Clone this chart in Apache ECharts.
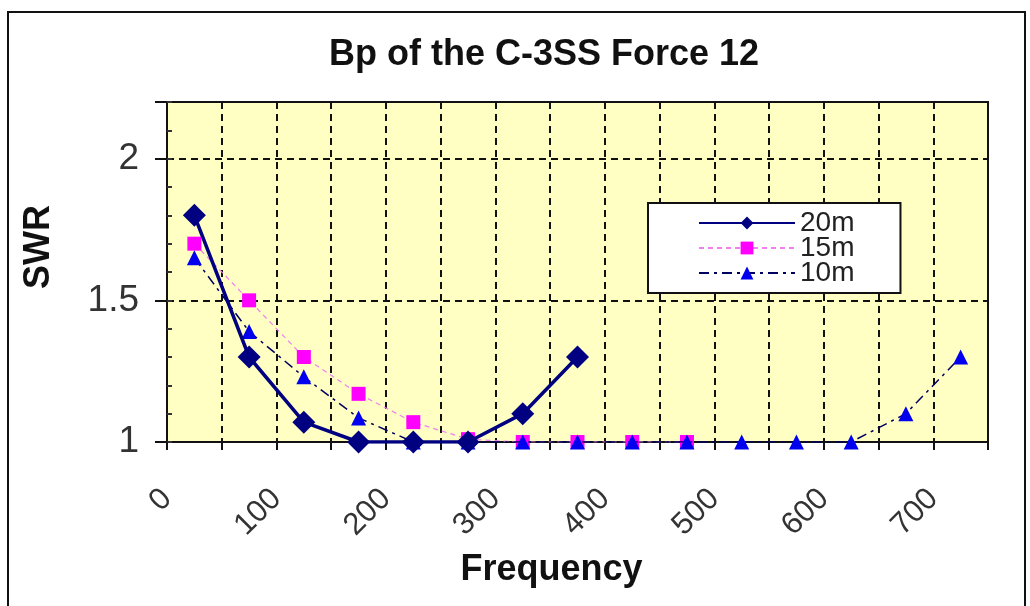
<!DOCTYPE html>
<html>
<head>
<meta charset="utf-8">
<script src="https://cdn.jsdelivr.net/npm/echarts@6/dist/echarts.min.js"></script>
<style>
  html, body { margin: 0; padding: 0; background: #fff; }
  #chart { width: 1030px; height: 606px; }
</style>
</head>
<body>
<div id="chart"></div>
<script>
// frequency points (x) and SWR readings per band
const freqs = [25, 75, 125, 175, 225, 275, 325, 375, 425, 475, 525, 575, 625, 675, 725];
const swr20 = [1.8, 1.3, 1.07, 1.0, 1.0, 1.0, 1.1, 1.3];
const swr15 = [1.7, 1.5, 1.3, 1.17, 1.07, 1.01, 1.0, 1.0, 1.0, 1.0];
const swr10 = [1.65, 1.39, 1.23, 1.085, 1.0, 1.0, 1.0, 1.0, 1.0, 1.0, 1.0, 1.0, 1.0, 1.1, 1.3];
const xTicks = [0, 100, 200, 300, 400, 500, 600, 700];
const yTicks = [1, 1.5, 2];

const pairs = vals => vals.map((v, i) => [freqs[i], v]);
const font = 'Liberation Sans, Arial, sans-serif';

const chart = echarts.init(document.getElementById('chart'));
chart.setOption({
    animation: false,
    backgroundColor: '#fff',
    textStyle: { fontFamily: font },
    title: {
        text: 'Bp of the C-3SS Force 12',
        left: 539,
        top: 32,
        textAlign: 'center',
        textStyle: { fontSize: 36, fontWeight: 'bold', color: '#111', fontFamily: font },
    },
    graphic: [
        {
            type: 'rect',
            shape: { x: 8, y: 12, width: 1017, height: 600 },
            style: { fill: 'none', stroke: '#111', lineWidth: 2 },
            silent: true,
        },
    ],
    grid: {
        left: 167,
        right: 42,
        top: 102,
        bottom: 164,
        show: true,
        backgroundColor: '#ffffc4',
        borderColor: '#111',
        borderWidth: 2,
    },
    legend: {
        orient: 'vertical',
        left: 648,
        top: 203,
        backgroundColor: '#fff',
        borderColor: '#111',
        borderWidth: 2,
        borderRadius: 0,
        padding: [6, 46, 6, 50],
        itemWidth: 96,
        itemHeight: 16,
        itemGap: -3,
        data: ['20m', '15m', '10m'],
        textStyle: { fontSize: 28, color: '#222', fontFamily: font, lineHeight: 25 },
    },
    xAxis: {
        type: 'value',
        min: 0,
        max: 750,
        interval: 50,
        name: 'Frequency',
        nameLocation: 'middle',
        nameGap: 110,
        nameTextStyle: {
            fontSize: 36,
            fontWeight: 'bold',
            color: '#111',
            fontFamily: font,
            padding: [0, 52, 0, 0],
        },
        axisLine: { lineStyle: { color: '#111', width: 2 } },
        axisTick: { length: 8, lineStyle: { color: '#111', width: 2 } },
        axisLabel: {
            rotate: 45,
            fontSize: 31,
            color: '#333',
            margin: 52,
            showMinLabel: true,
            formatter: v => (xTicks.includes(v) ? String(v) : ''),
        },
        splitLine: { lineStyle: { color: '#111', type: [7, 5], width: 2 } },
    },
    yAxis: [
        {
            type: 'value',
            min: 1,
            max: 2.2,
            interval: 0.5,
            name: 'SWR',
            nameLocation: 'middle',
            nameGap: 110,
            nameTextStyle: {
                fontSize: 36,
                fontWeight: 'bold',
                color: '#111',
                fontFamily: font,
                padding: [0, 0, 0, 50],
            },
            axisLine: { show: true, lineStyle: { color: '#111', width: 2 } },
            axisTick: { show: true, length: 12, lineStyle: { color: '#111', width: 2 } },
            axisLabel: {
                fontSize: 37,
                color: '#333',
                margin: 28,
                formatter: v => (yTicks.includes(v) ? String(v) : ''),
            },
            splitLine: { lineStyle: { color: '#111', type: [7, 5], width: 2 } },
        },
        {
            // inside minor ticks every 0.1
            type: 'value',
            position: 'left',
            min: 1,
            max: 2.2,
            interval: 0.1,
            axisLine: { show: false },
            axisTick: { show: true, inside: true, length: 5, lineStyle: { color: '#333', width: 2 } },
            axisLabel: { show: false },
            splitLine: { show: false },
        },
    ],
    series: [
        {
            name: '20m',
            type: 'line',
            data: pairs(swr20),
            symbol: 'diamond',
            symbolSize: 23,
            z: 5,
            itemStyle: { color: '#000080' },
            lineStyle: { color: '#000080', width: 3.5 },
        },
        {
            name: '15m',
            type: 'line',
            data: pairs(swr15),
            symbol: 'rect',
            symbolSize: 14,
            z: 3,
            itemStyle: { color: '#ff00ff' },
            lineStyle: { color: '#f080f0', width: 1.2, type: [5, 4] },
        },
        {
            name: '10m',
            type: 'line',
            data: pairs(swr10),
            symbol: 'triangle',
            symbolSize: 15,
            z: 4,
            itemStyle: { color: '#0000ee' },
            lineStyle: { color: '#000060', width: 1.5, type: [10, 5, 3, 5] },
        },
    ],
});
</script>
</body>
</html>
